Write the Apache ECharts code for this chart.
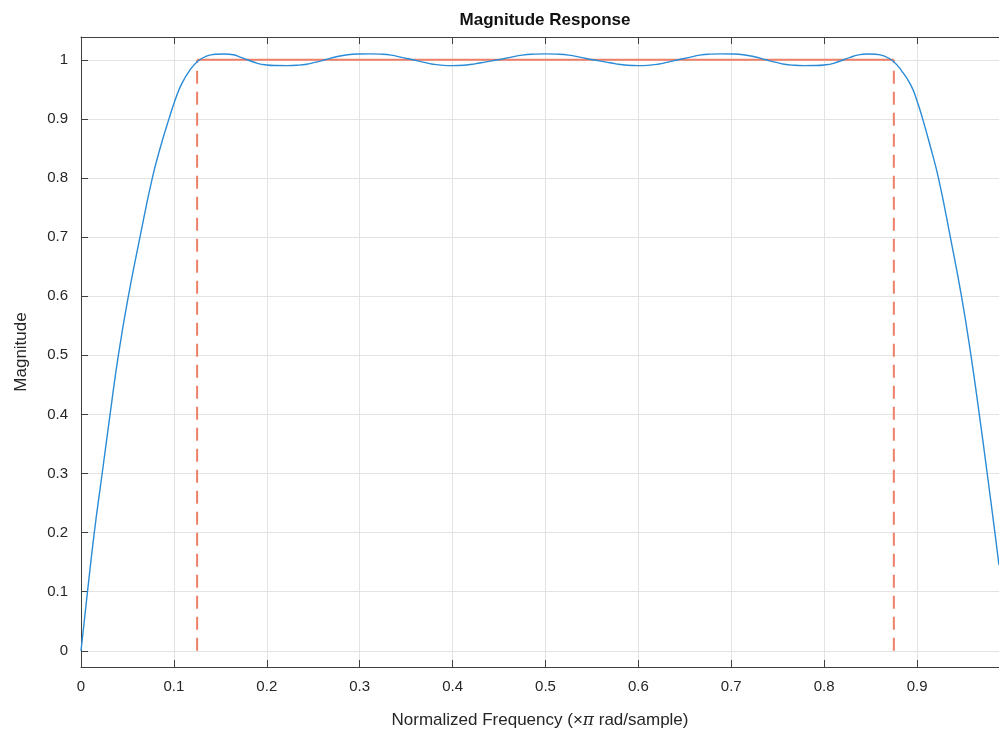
<!DOCTYPE html>
<html>
<head>
<meta charset="utf-8">
<script src="https://cdn.jsdelivr.net/npm/echarts@6/dist/echarts.min.js"></script>
<style>
html,body{margin:0;padding:0;background:#fff;}
#chart{width:999px;height:737px;}
</style>
</head>
<body>
<div id="chart"></div>
<script>
// Frequency (x pi rad/sample) of the magnitude-response curve
const freq = [
  0, 0.0035, 0.007, 0.0143, 0.0228, 0.0313, 0.0402, 0.051, 0.0635, 0.0768, 0.086, 0.0947, 0.102, 0.108, 0.117, 0.126,
  0.135, 0.145, 0.154, 0.164, 0.172, 0.179, 0.19, 0.2, 0.211, 0.222, 0.233, 0.243, 0.253, 0.263, 0.275, 0.287,
  0.299, 0.311, 0.323, 0.334, 0.345, 0.357, 0.368, 0.379, 0.39, 0.4, 0.412, 0.424, 0.436, 0.449, 0.462, 0.475,
  0.488, 0.5, 0.512, 0.525, 0.538, 0.551, 0.564, 0.576, 0.588, 0.6, 0.61, 0.621, 0.632, 0.643, 0.655, 0.666,
  0.677, 0.689, 0.701, 0.713, 0.725, 0.737, 0.747, 0.757, 0.767, 0.778, 0.789, 0.8, 0.81, 0.821, 0.828, 0.836,
  0.846, 0.855, 0.865, 0.874, 0.883, 0.893, 0.899, 0.906, 0.914, 0.923, 0.9358, 0.9478, 0.958, 0.967, 0.9755, 0.9838, 0.9882
];
// Magnitude at each frequency
const magnitude = [
  0, 0.05, 0.1, 0.2, 0.3, 0.4, 0.5, 0.6, 0.7, 0.8, 0.855, 0.9, 0.935, 0.958, 0.982, 0.998,
  1.006, 1.0093, 1.0098, 1.0085, 1.004, 1.0, 0.994, 0.9912, 0.9902, 0.99, 0.9907, 0.9925, 0.996, 1.0, 1.005, 1.0085,
  1.0098, 1.01, 1.0095, 1.0078, 1.004, 1.0, 0.996, 0.9925, 0.9905, 0.99, 0.9907, 0.993, 0.9965, 1.0, 1.004, 1.0078,
  1.0095, 1.01, 1.0095, 1.0078, 1.004, 1.0, 0.9965, 0.993, 0.9907, 0.99, 0.9905, 0.9925, 0.996, 1.0, 1.004, 1.0078,
  1.0095, 1.01, 1.0098, 1.0085, 1.005, 1.0, 0.996, 0.9925, 0.9907, 0.99, 0.9902, 0.9912, 0.994, 1.0, 1.004, 1.0078,
  1.0098, 1.0093, 1.006, 0.998, 0.982, 0.958, 0.935, 0.9, 0.855, 0.8, 0.7, 0.6, 0.5, 0.4, 0.3, 0.2, 0.145
];
// Design mask: passband edges and target magnitude
const bandEdges = [0.125, 0.875];
const passMag = 1;
// Tick labels
const xTicks = [0, 0.1, 0.2, 0.3, 0.4, 0.5, 0.6, 0.7, 0.8, 0.9];
const yTicks = [0, 0.1, 0.2, 0.3, 0.4, 0.5, 0.6, 0.7, 0.8, 0.9, 1];
const xRange = [0, 0.9882];
const yRange = [-0.0274, 1.0385];

const curve = freq.map((f, i) => [f, magnitude[i]]);
const axisColor = '#404040';
const labelColor = '#262626';
const font = 'Liberation Sans, Arial, Helvetica, sans-serif';
const maskColor = '#ee7f68';

const chart = echarts.init(document.getElementById('chart'), null, {renderer: 'canvas'});
chart.setOption({
  backgroundColor: '#ffffff',
  animation: false,
  title: {
    text: 'Magnitude Response',
    left: 540, top: 7, textAlign: 'center',
    textStyle: {fontFamily: font, fontSize: 17, fontWeight: 'bold', color: '#111'}
  },
  grid: {left: 81, top: 37, right: 0, bottom: 70, containLabel: false},
  xAxis: [{
    type: 'value', min: xRange[0], max: xRange[1], position: 'bottom',
    name: '{a|Normalized Frequency (×}{i|π}{a| rad/sample)}',
    nameLocation: 'middle', nameGap: 45,
    nameTextStyle: {
      rich: {
        a: {fontFamily: font, fontSize: 17, color: labelColor},
        i: {fontFamily: 'DejaVu Serif, serif', fontStyle: 'italic', fontSize: 17, color: labelColor}
      }
    },
    axisLine: {show: true, onZero: false, lineStyle: {color: axisColor, width: 1}},
    axisTick: {show: true, inside: true, length: 7, customValues: xTicks, lineStyle: {color: axisColor}},
    axisLabel: {customValues: xTicks, margin: 12, fontFamily: font, fontSize: 15, color: labelColor,
                formatter: v => String(v)},
    splitLine: {show: true, lineStyle: {color: '#e3e3e3', width: 1}}
  }, {
    type: 'value', min: xRange[0], max: xRange[1], position: 'top',
    axisLine: {show: true, onZero: false, lineStyle: {color: axisColor, width: 1}},
    axisTick: {show: true, inside: true, length: 7, customValues: xTicks, lineStyle: {color: axisColor}},
    axisLabel: {show: false},
    splitLine: {show: false}
  }],
  yAxis: [{
    type: 'value', min: yRange[0], max: yRange[1],
    name: 'Magnitude', nameLocation: 'middle', nameGap: 51,
    nameTextStyle: {fontFamily: font, fontSize: 17, color: labelColor},
    axisLine: {show: true, onZero: false, lineStyle: {color: axisColor, width: 1}},
    axisTick: {show: true, inside: true, length: 7, customValues: yTicks, lineStyle: {color: axisColor}},
    axisLabel: {customValues: yTicks, margin: 13, fontFamily: font, fontSize: 15, color: labelColor,
                formatter: v => String(v)},
    splitLine: {show: true, lineStyle: {color: '#e3e3e3', width: 1}}
  }],
  series: [
    {
      type: 'line', name: 'edgeLo', data: [[bandEdges[0], 0], [bandEdges[0], passMag]],
      symbol: 'none', lineStyle: {color: maskColor, width: 2, type: [13, 8]}, z: 2
    },
    {
      type: 'line', name: 'edgeHi', data: [[bandEdges[1], 0], [bandEdges[1], passMag]],
      symbol: 'none', lineStyle: {color: maskColor, width: 2, type: [13, 8]}, z: 2
    },
    {
      type: 'line', name: 'pass', data: [[bandEdges[0], passMag], [bandEdges[1], passMag]],
      symbol: 'none', lineStyle: {color: maskColor, width: 2}, z: 2
    },
    {
      type: 'line', name: 'response', data: curve, smooth: 0.5,
      symbol: 'none', lineStyle: {color: '#2a8bd6', width: 1.4}, z: 3, clip: true
    }
  ]
});
</script>
</body>
</html>
